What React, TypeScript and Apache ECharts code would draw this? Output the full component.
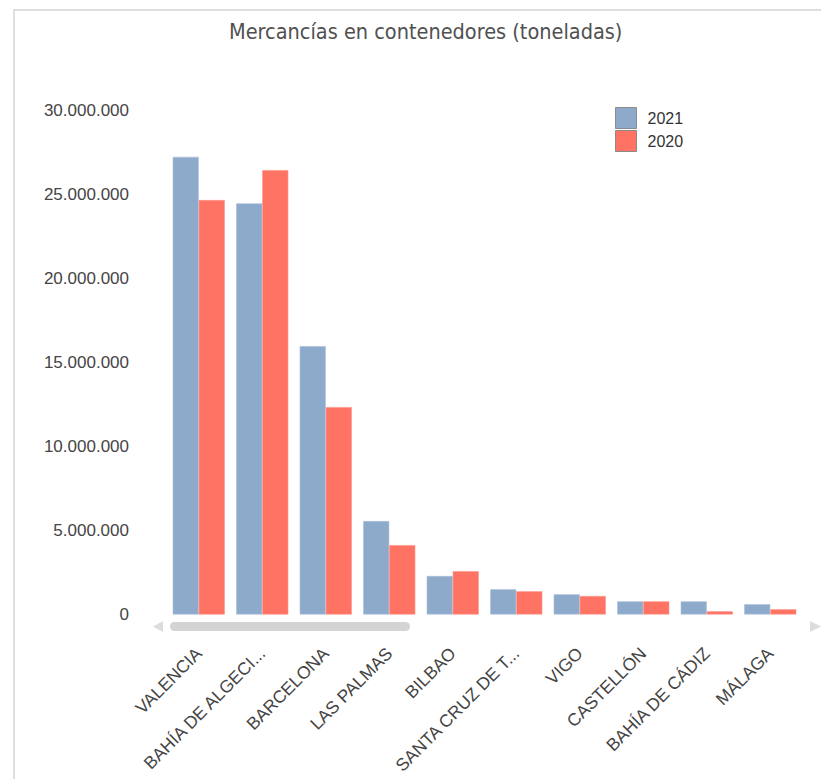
import React, { useEffect, useRef } from "react";
import * as echarts from "echarts";

const categories = [
  "VALENCIA",
  "BAHÍA DE ALGECIRAS",
  "BARCELONA",
  "LAS PALMAS",
  "BILBAO",
  "SANTA CRUZ DE TENERIFE",
  "VIGO",
  "CASTELLÓN",
  "BAHÍA DE CÁDIZ",
  "MÁLAGA",
];
const values2021 = [27230000, 24460000, 15970000, 5560000, 2290000, 1500000, 1200000, 780000, 780000, 610000];
const values2020 = [24660000, 26440000, 12340000, 4130000, 2570000, 1380000, 1100000, 780000, 190000, 310000];
const seriesNames = ["2021", "2020"];
const titleText = "Mercancías en contenedores (toneladas)";

const fmt = (v: number) => String(Math.round(v)).replace(/\B(?=(\d{3})+(?!\d))/g, ".");

export default function App() {
  const ref = useRef<HTMLDivElement>(null);
  useEffect(() => {
    if (!ref.current) return;
    const chart = echarts.init(ref.current, null, { renderer: "svg" });
    const font = "'Liberation Sans', Arial, sans-serif";
    chart.setOption({
      animation: false,
      backgroundColor: "#ffffff",
      title: {
        text: titleText,
        left: 229,
        top: 20,
        padding: 0,
        textStyle: {
          fontFamily: "'DejaVu Sans Condensed', 'Liberation Sans Narrow', 'Arial Narrow', sans-serif",
          fontSize: 21.5,
          fontWeight: "normal",
          color: "#505050",
        },
      },
      legend: {
        orient: "vertical",
        left: 615,
        top: 107,
        padding: 0,
        itemWidth: 21,
        itemHeight: 21,
        itemGap: 1,
        icon: "rect",
        data: seriesNames,
        textStyle: { fontFamily: font, fontSize: 16, color: "#333", padding: [0, 0, 0, 6] },
        itemStyle: { borderColor: "#8a8a8a", borderWidth: 1 },
      },
      grid: { left: 167, right: 19, top: 110.3, bottom: 164.5, containLabel: false },
      xAxis: {
        type: "category",
        data: categories,
        axisLine: { show: false },
        axisTick: { show: false },
        axisLabel: {
          rotate: 45,
          margin: 36,
          interval: 0,
          fontFamily: font,
          fontSize: 17.5,
          color: "#444",
          formatter: (s: string) => (s.length > 16 ? s.slice(0, 15) + "..." : s),
        },
      },
      yAxis: {
        type: "value",
        min: 0,
        max: 30000000,
        interval: 5000000,
        splitLine: { show: false },
        axisLine: { show: false },
        axisTick: { show: false },
        axisLabel: {
          margin: 38,
          fontFamily: font,
          fontSize: 17,
          color: "#444",
          formatter: (v: number) => fmt(v),
        },
      },
      series: [
        {
          name: seriesNames[0],
          type: "bar",
          data: values2021,
          barGap: "0%",
          barCategoryGap: "18%",
          itemStyle: { color: "#8eaacb", borderColor: "#a9c0da", borderWidth: 0.6 },
        },
        {
          name: seriesNames[1],
          type: "bar",
          data: values2020,
          itemStyle: { color: "#fe7363", borderColor: "#ff9286", borderWidth: 0.6 },
        },
      ],
      graphic: [
        { type: "line", shape: { x1: 13, y1: 10, x2: 821, y2: 10 }, style: { stroke: "#dedede", lineWidth: 2 } },
        { type: "line", shape: { x1: 14, y1: 10, x2: 14, y2: 779 }, style: { stroke: "#dedede", lineWidth: 2 } },
        { type: "rect", shape: { x: 170, y: 622, width: 240, height: 9, r: 4.5 }, style: { fill: "#d4d4d4" } },
        { type: "polygon", shape: { points: [[163, 621], [153, 626.5], [163, 632]] }, style: { fill: "#dcdcdc" } },
        { type: "polygon", shape: { points: [[810, 621], [821, 626.5], [810, 632]] }, style: { fill: "#dcdcdc" } },
      ],
    });
    return () => chart.dispose();
  }, []);
  return <div ref={ref} style={{ position: "absolute", left: 0, top: 0, width: 821, height: 779 }} />;
}
